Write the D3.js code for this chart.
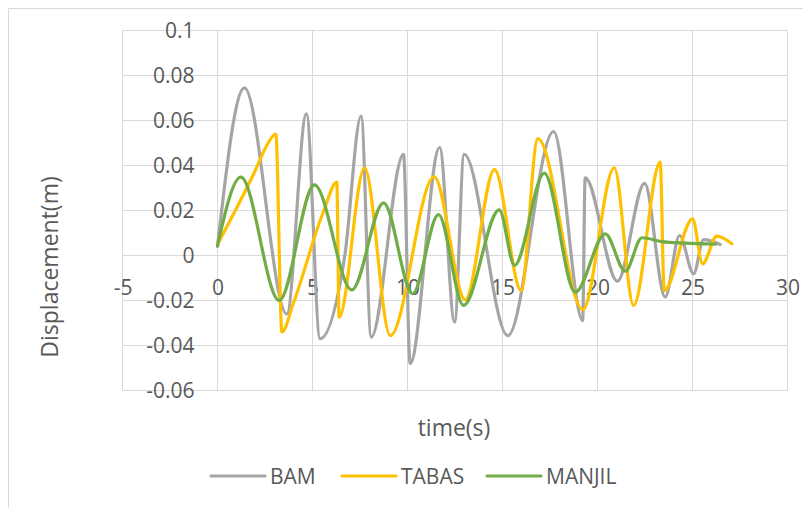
<!DOCTYPE html>
<html>
<head>
<meta charset="utf-8">
<script src="https://cdn.jsdelivr.net/npm/d3@7"></script>
<style>
  html, body { margin: 0; padding: 0; background: #fff; }
  svg { display: block; }
  text { font-family: "Open Sans", "Liberation Sans", sans-serif; fill: #595959; }
</style>
</head>
<body>
<svg id="chart" width="803" height="508"></svg>
<script>
// ---------- data ----------
const bamTime = [0, 1.42, 3.65, 4.68, 5.4, 6.7, 7.56, 8.09, 9.79, 10.14, 11.69, 12.48, 12.98, 15.28, 17.69, 19.22, 19.35, 21.05, 22.48, 23.56, 24.32, 25.06, 25.58, 26.46];
const bamDisp = [0.004, 0.0745, -0.026, 0.063, -0.037, 0.0, 0.062, -0.0363, 0.045, -0.048, 0.048, -0.0296, 0.045, -0.0356, 0.0551, -0.0289, 0.0345, -0.0114, 0.0321, -0.0185, 0.0089, -0.0081, 0.0071, 0.0049];

const tabasTime = [0, 1.0, 2.0, 2.6, 3.07, 3.39, 4.0, 5.6, 6.28, 6.4, 7.74, 9.09, 11.4, 13.04, 14.58, 15.98, 16.86, 19.23, 20.88, 21.9, 23.3, 23.51, 25.0, 25.53, 26.28, 27.07];
const tabasDisp = [0.005, 0.021, 0.038, 0.049, 0.054, -0.034, -0.021, 0.020, 0.0326, -0.0274, 0.039, -0.0356, 0.035, -0.0197, 0.0382, -0.0156, 0.0519, -0.0241, 0.039, -0.0222, 0.0415, -0.0156, 0.0163, -0.0037, 0.0086, 0.0052];

const manjilTime = [0, 1.23, 3.25, 5.1, 7.07, 8.74, 10.27, 11.63, 12.95, 14.83, 15.63, 17.2, 18.83, 20.41, 21.46, 22.34, 23.39, 24.62, 26.2];
const manjilDisp = [0.0044, 0.0348, -0.020, 0.0314, -0.0153, 0.0234, -0.017, 0.0182, -0.0222, 0.0203, -0.0044, 0.0366, -0.0163, 0.0096, -0.0070, 0.0079, 0.0062, 0.0055, 0.005];

const seriesNames = ["BAM", "TABAS", "MANJIL"];
const seriesColors = ["#A5A5A5", "#FFC000", "#70AD47"];

const xTickValues = [-5, 0, 5, 10, 15, 20, 25, 30];
const xTickLabels = ["-5", "0", "5", "10", "15", "20", "25", "30"];
const yTickValues = [-0.06, -0.04, -0.02, 0, 0.02, 0.04, 0.06, 0.08, 0.1];
const yTickLabels = ["-0.06", "-0.04", "-0.02", "0", "0.02", "0.04", "0.06", "0.08", "0.1"];

const xTitle = "time(s)";
const yTitle = "Displacement(m)";

// ---------- drawing ----------
const svg = d3.select("#chart");
svg.append("rect").attr("width", 803).attr("height", 508).attr("fill", "#fff");

// chart area border (partially visible)
svg.append("path")
  .attr("d", "M8.5,508 L8.5,8.5 L803,8.5")
  .attr("fill", "none").attr("stroke", "#d9d9d9").attr("stroke-width", 1);

const x = d3.scaleLinear().domain([-5, 30]).range([122.5, 787.5]);
const y = d3.scaleLinear().domain([-0.06, 0.1]).range([390.5, 30.5]);

const grid = svg.append("g").attr("stroke", "#d9d9d9").attr("stroke-width", 1);
grid.selectAll("line.h").data(yTickValues).enter().append("line")
  .attr("x1", x(-5)).attr("x2", x(30))
  .attr("y1", d => Math.round(y(d) - 0.5) + 0.5).attr("y2", d => Math.round(y(d) - 0.5) + 0.5);
grid.selectAll("line.v").data(xTickValues).enter().append("line")
  .attr("y1", y(0.1)).attr("y2", y(-0.06))
  .attr("x1", d => Math.round(x(d) - 0.5) + 0.5).attr("x2", d => Math.round(x(d) - 0.5) + 0.5);

// y axis labels (axis positioned at x = 0)
const yAxis = d3.axisLeft(y).tickValues(yTickValues).tickSize(0).tickPadding(23)
  .tickFormat((d, i) => yTickLabels[i]);
const gy = svg.append("g").attr("transform", `translate(${x(0)},0)`).call(yAxis);
gy.select(".domain").remove();
gy.selectAll("text").attr("font-size", 21).attr("fill", "#595959")
  .attr("font-family", "Open Sans");

// x axis labels (axis positioned at y = 0)
const xAxis = d3.axisBottom(x).tickValues(xTickValues).tickSize(0).tickPadding(25)
  .tickFormat((d, i) => xTickLabels[i]);
const gx = svg.append("g").attr("transform", `translate(0,${y(0)})`).call(xAxis);
gx.select(".domain").remove();
gx.selectAll("text").attr("font-size", 21).attr("fill", "#595959")
  .attr("font-family", "Open Sans");

// series
const seriesData = [
  d3.zip(bamTime, bamDisp),
  d3.zip(tabasTime, tabasDisp),
  d3.zip(manjilTime, manjilDisp)
];
const line = d3.line().x(d => x(d[0])).y(d => y(d[1])).curve(d3.curveMonotoneX);
svg.append("g").selectAll("path").data(seriesData).enter().append("path")
  .attr("d", line)
  .attr("fill", "none")
  .attr("stroke", (d, i) => seriesColors[i])
  .attr("stroke-width", 3.2)
  .attr("stroke-linejoin", "round")
  .attr("stroke-linecap", "round");

// axis titles
svg.append("text").attr("x", 454).attr("y", 427).attr("text-anchor", "middle")
  .attr("dominant-baseline", "central").attr("font-size", 23).text(xTitle);
svg.append("text").attr("transform", "translate(49,267) rotate(-90)")
  .attr("text-anchor", "middle").attr("dominant-baseline", "central")
  .attr("font-size", 23).text(yTitle);

// legend
const legendX = [211, 342, 487];
const leg = svg.append("g");
seriesNames.forEach((name, i) => {
  const g = leg.append("g").attr("transform", `translate(${legendX[i]},476)`);
  g.append("line").attr("x1", 0).attr("x2", 54).attr("y1", 0).attr("y2", 0)
    .attr("stroke", seriesColors[i]).attr("stroke-width", 3.2).attr("stroke-linecap", "round");
  g.append("text").attr("x", 59).attr("y", 0).attr("dominant-baseline", "central")
    .attr("font-size", 21).text(name);
});
</script>
</body>
</html>
